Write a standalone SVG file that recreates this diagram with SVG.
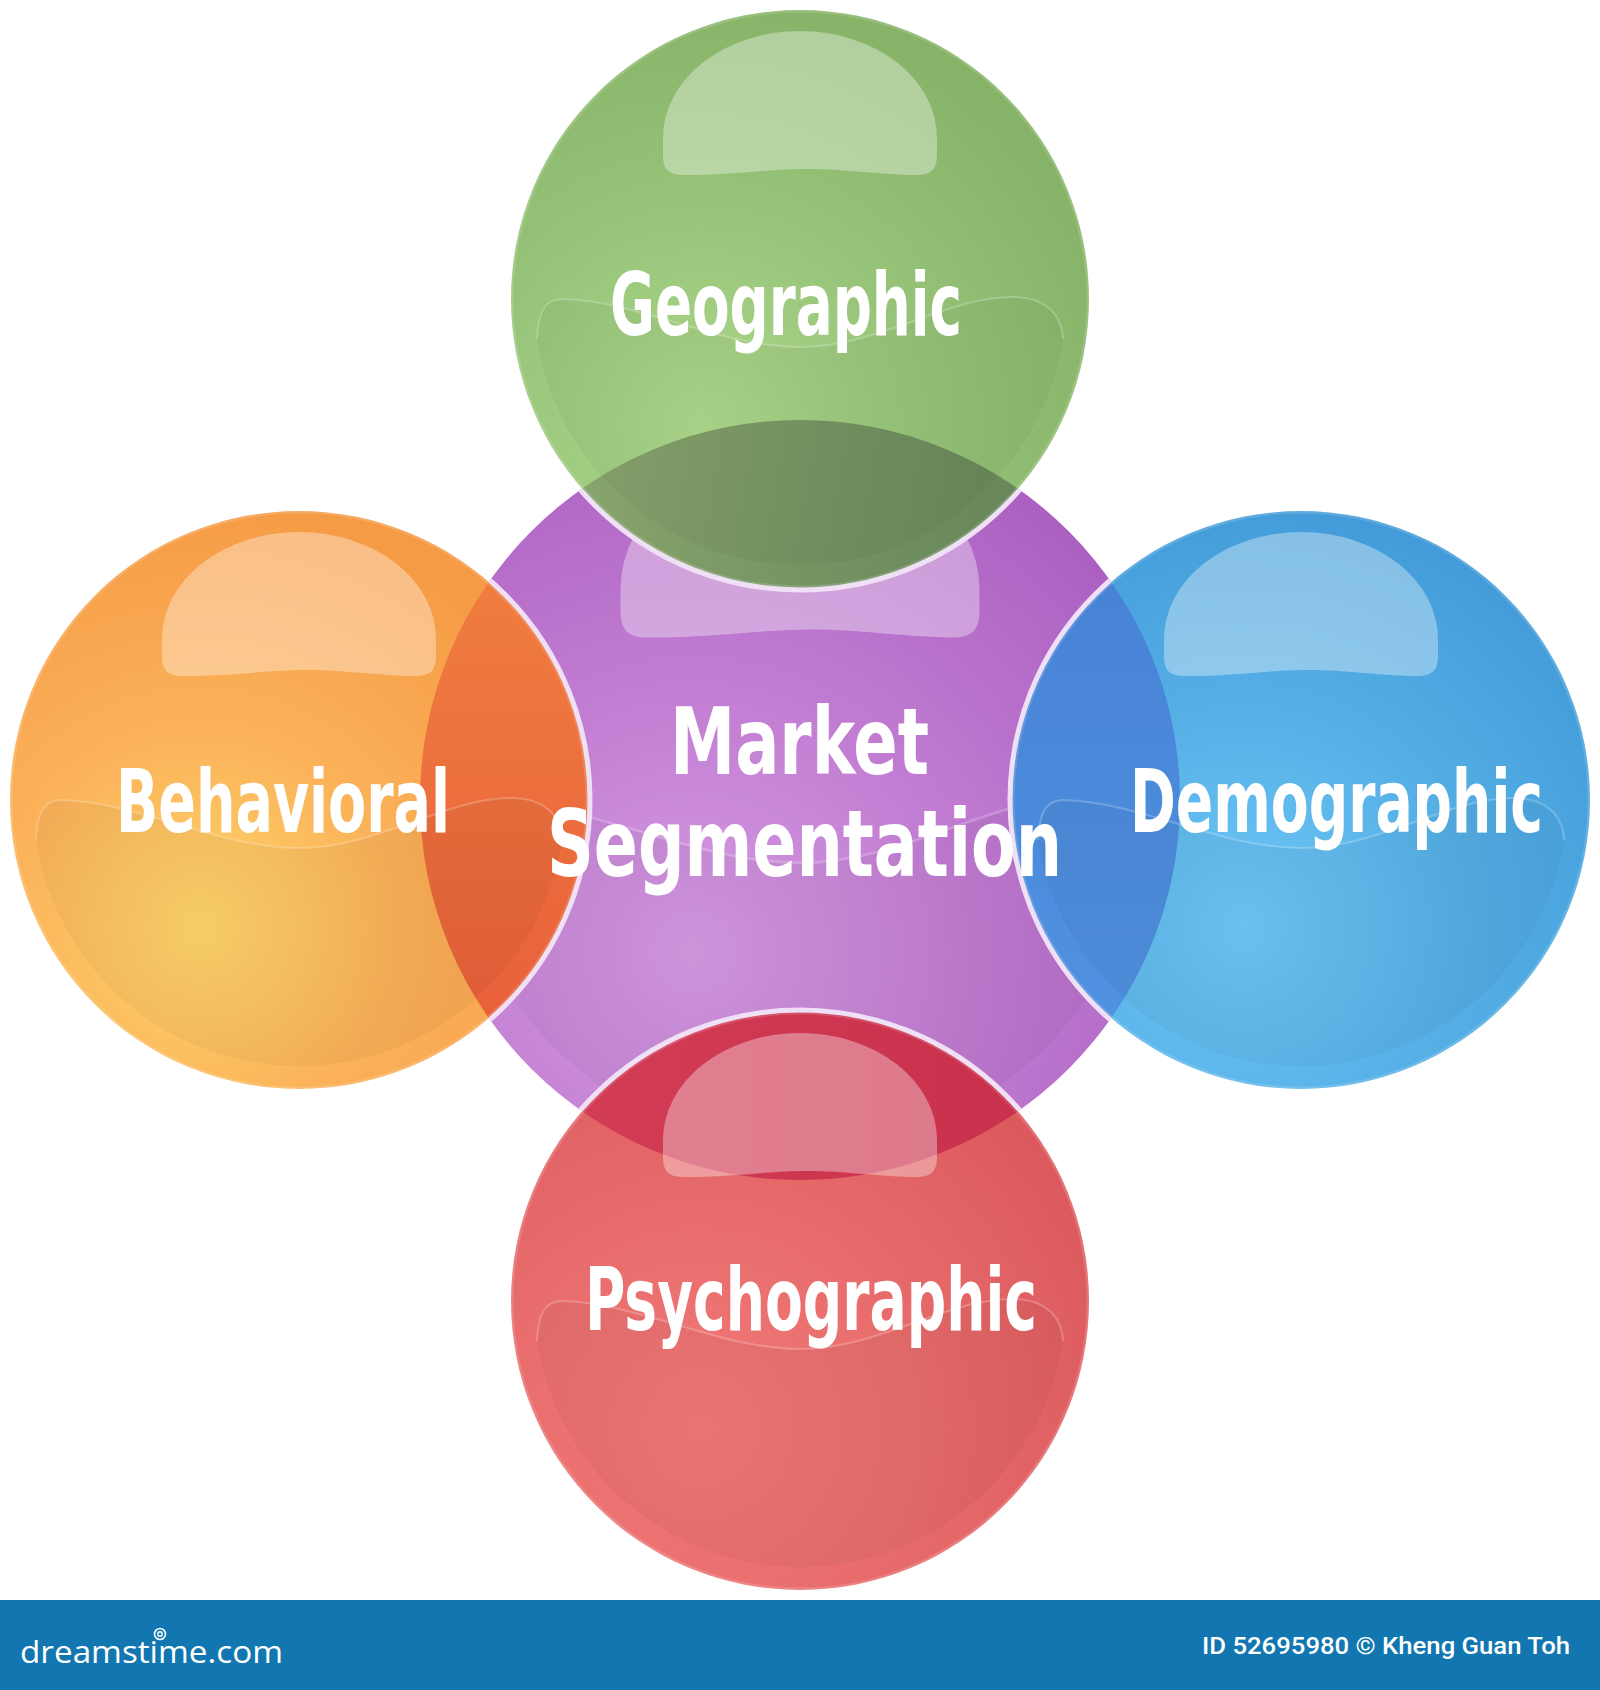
<svg xmlns="http://www.w3.org/2000/svg" xmlns:xlink="http://www.w3.org/1999/xlink" width="1600" height="1690" viewBox="0 0 1600 1690">
<style>
.lbl{font-family:"Liberation Sans Narrow","DejaVu Sans Condensed","Liberation Sans",Arial,sans-serif;font-weight:bold;fill:#ffffff;font-size:87px}
.big{font-size:92px}
.dome{fill:#ffffff;fill-opacity:0.35}
.band{fill:#000000;fill-opacity:0.035}
.bandtop{fill:none;stroke:#ffffff;stroke-opacity:0.22;stroke-width:2}
.rim{fill:none;stroke:#efe0f5;stroke-width:5}
.edge{fill:none;stroke:#ffffff;stroke-opacity:0.15;stroke-width:3}
</style>
<defs>
<path id="dome" d="M -137,-161 A 137 107 0 0 1 137,-161 L 137,-145 C 137,-130 132,-124 116,-124 C 70,-125 40,-131 0,-130 C -40,-129 -70,-124 -116,-124 C -132,-124 -137,-130 -137,-145 Z"/>
<path id="band" d="M -238,0 C -160,2 -80,48 0,48 C 80,48 150,-4 215,-2 C 245,-1 262,15 263,40 A 266 266 0 0 1 -263,40 C -262,15 -256,0 -238,0 Z"/>
<path id="bandTop" d="M -263,40 C -262,15 -256,0 -238,0 C -160,2 -80,48 0,48 C 80,48 150,-4 215,-2 C 245,-1 262,15 263,40"/>
<clipPath id="clipPurple"><circle cx="800" cy="800" r="380"/></clipPath>
<radialGradient id="gPurple" cx="0.36" cy="0.70" r="0.75">
<stop offset="0" stop-color="#d59ae2"/><stop offset="0.5" stop-color="#c07bd1"/><stop offset="1" stop-color="#ab60c1"/>
</radialGradient>
<radialGradient id="gGreen" cx="0.33" cy="0.72" r="0.75">
<stop offset="0" stop-color="#add98b"/><stop offset="0.5" stop-color="#97c479"/><stop offset="1" stop-color="#87b368"/>
</radialGradient>
<radialGradient id="gOrange" cx="0.33" cy="0.72" r="0.75">
<stop offset="0" stop-color="#fed66b"/><stop offset="0.45" stop-color="#fbb259"/><stop offset="1" stop-color="#f59a45"/>
</radialGradient>
<radialGradient id="gBlue" cx="0.40" cy="0.72" r="0.75">
<stop offset="0" stop-color="#6ec8f7"/><stop offset="0.5" stop-color="#56b0e6"/><stop offset="1" stop-color="#429bd8"/>
</radialGradient>
<radialGradient id="gRed" cx="0.33" cy="0.72" r="0.75">
<stop offset="0" stop-color="#f27a78"/><stop offset="0.5" stop-color="#e86c6c"/><stop offset="1" stop-color="#dc5a5e"/>
</radialGradient>
<linearGradient id="oGreen" gradientUnits="userSpaceOnUse" x1="560" y1="480" x2="1000" y2="560">
<stop offset="0" stop-color="#8aa66e"/><stop offset="1" stop-color="#67875a"/>
</linearGradient>
<linearGradient id="oOrange" gradientUnits="userSpaceOnUse" x1="0" y1="560" x2="0" y2="1040">
<stop offset="0" stop-color="#f07e3f"/><stop offset="1" stop-color="#e85f3b"/>
</linearGradient>
<linearGradient id="oBlue" gradientUnits="userSpaceOnUse" x1="0" y1="560" x2="0" y2="1040">
<stop offset="0" stop-color="#4781d5"/><stop offset="1" stop-color="#5093e1"/>
</linearGradient>
<linearGradient id="oRed" gradientUnits="userSpaceOnUse" x1="560" y1="0" x2="1040" y2="0">
<stop offset="0" stop-color="#d43d56"/><stop offset="1" stop-color="#c8304b"/>
</linearGradient>
</defs>
<rect x="0" y="0" width="1600" height="1690" fill="#ffffff"/>

<g id="node-market">
<circle cx="800" cy="800" r="380" fill="url(#gPurple)"/>
<use xlink:href="#dome" href="#dome" class="dome" transform="translate(800,800) scale(1.31)"/>
<use xlink:href="#band" href="#band" class="band" transform="translate(800,800) scale(1.31)"/>
<use xlink:href="#bandTop" href="#bandTop" class="bandtop" transform="translate(800,800) scale(1.31)"/>
</g>

<g id="node-geographic">
<circle cx="800" cy="299" r="289" fill="url(#gGreen)"/>
<circle cx="800" cy="299" r="289" fill="url(#oGreen)" clip-path="url(#clipPurple)"/>
<use xlink:href="#dome" href="#dome" transform="translate(800,800) scale(1.31)" fill="#ffffff" fill-opacity="0.18" clip-path="url(#clipPurple)"/>
<use xlink:href="#dome" href="#dome" class="dome" transform="translate(800,299)"/>
<use xlink:href="#band" href="#band" class="band" transform="translate(800,299)"/>
<use xlink:href="#bandTop" href="#bandTop" class="bandtop" transform="translate(800,299)"/>
<circle cx="800" cy="299" r="288" class="edge"/>
<circle cx="800" cy="299" r="291" class="rim" clip-path="url(#clipPurple)"/>
</g>

<g id="node-behavioral">
<circle cx="299" cy="800" r="289" fill="url(#gOrange)"/>
<circle cx="299" cy="800" r="289" fill="url(#oOrange)" clip-path="url(#clipPurple)"/>
<use xlink:href="#dome" href="#dome" class="dome" transform="translate(299,800)"/>
<use xlink:href="#band" href="#band" class="band" transform="translate(299,800)"/>
<use xlink:href="#bandTop" href="#bandTop" class="bandtop" transform="translate(299,800)"/>
<circle cx="299" cy="800" r="288" class="edge"/>
<circle cx="299" cy="800" r="291" class="rim" clip-path="url(#clipPurple)"/>
</g>

<g id="node-demographic">
<circle cx="1301" cy="800" r="289" fill="url(#gBlue)"/>
<circle cx="1301" cy="800" r="289" fill="url(#oBlue)" clip-path="url(#clipPurple)"/>
<use xlink:href="#dome" href="#dome" class="dome" transform="translate(1301,800)"/>
<use xlink:href="#band" href="#band" class="band" transform="translate(1301,800)"/>
<use xlink:href="#bandTop" href="#bandTop" class="bandtop" transform="translate(1301,800)"/>
<circle cx="1301" cy="800" r="288" class="edge"/>
<circle cx="1301" cy="800" r="291" class="rim" clip-path="url(#clipPurple)"/>
</g>

<g id="node-psychographic">
<circle cx="800" cy="1301" r="289" fill="url(#gRed)"/>
<circle cx="800" cy="1301" r="289" fill="url(#oRed)" clip-path="url(#clipPurple)"/>
<use xlink:href="#dome" href="#dome" class="dome" transform="translate(800,1301)"/>
<use xlink:href="#band" href="#band" class="band" transform="translate(800,1301)"/>
<use xlink:href="#bandTop" href="#bandTop" class="bandtop" transform="translate(800,1301)"/>
<circle cx="800" cy="1301" r="288" class="edge"/>
<circle cx="800" cy="1301" r="291" class="rim" clip-path="url(#clipPurple)"/>
</g>

<g id="connectors"></g>

<g id="labels">
<text id="label-geographic" class="lbl" x="610" y="335" textLength="352" lengthAdjust="spacingAndGlyphs">Geographic</text>
<text id="label-behavioral" class="lbl" x="116" y="832" textLength="334" lengthAdjust="spacingAndGlyphs">Behavioral</text>
<text id="label-demographic" class="lbl" x="1130" y="832" textLength="413" lengthAdjust="spacingAndGlyphs">Demographic</text>
<text id="label-psychographic" class="lbl" x="585" y="1330" textLength="452" lengthAdjust="spacingAndGlyphs">Psychographic</text>
<text id="label-market" class="lbl big" x="670" y="774" textLength="259" lengthAdjust="spacingAndGlyphs">Market</text>
<text id="label-segmentation" class="lbl big" x="547" y="876" textLength="515" lengthAdjust="spacingAndGlyphs">Segmentation</text>
</g>

<g id="footer">
<rect x="0" y="1600" width="1600" height="90" fill="#1277b0"/>
<circle cx="160" cy="1634" r="5.5" fill="none" stroke="#ffffff" stroke-width="1.6"/>
<circle cx="160" cy="1634" r="2.2" fill="none" stroke="#ffffff" stroke-width="1.4"/>
<text x="20" y="1663" textLength="263" lengthAdjust="spacingAndGlyphs" font-family="'Open Sans','DejaVu Sans',sans-serif" font-size="31" fill="#ffffff">dreamstime.com</text>
<text x="1202" y="1654" textLength="368" lengthAdjust="spacingAndGlyphs" font-family="Roboto,'Liberation Sans',sans-serif" font-weight="500" font-size="24" fill="#ffffff">ID 52695980 © Kheng Guan Toh</text>
</g>
</svg>
